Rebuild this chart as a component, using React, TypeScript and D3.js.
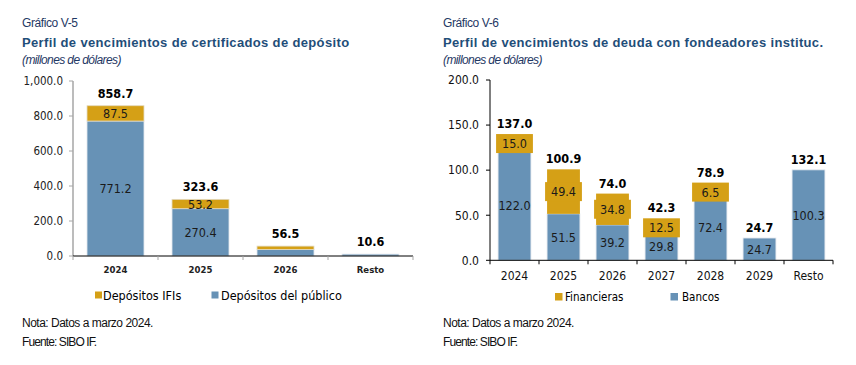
import React from "react";
import * as d3 from "d3";

// Gráfico V-5: certificados de depósito
const cdCategories = ["2024", "2025", "2026", "Resto"];
const cdPublico = [771.2, 270.4, 37.0, 10.6];
const cdIFIs = [87.5, 53.2, 19.5, 0];
const cdTotals = [858.7, 323.6, 56.5, 10.6];
const cdShowIFILabel = [true, true, false, false];
const cdShowPublicoLabel = [true, true, false, false];
const cdTicks = [0, 200, 400, 600, 800, 1000];

// Gráfico V-6: deuda con fondeadores institucionales
const fdCategories = ["2024", "2025", "2026", "2027", "2028", "2029", "Resto"];
const fdBancos = [122.0, 51.5, 39.2, 29.8, 72.4, 24.7, 100.3];
const fdFinancieras = [15.0, 49.4, 34.8, 12.5, 6.5, 0, 0];
const fdTotals = [137.0, 100.9, 74.0, 42.3, 78.9, 24.7, 132.1];
const fdTicks = [0, 50, 100, 150, 200];

const GOLD = "#D5A016";
const BLUE = "#6792B6";
const NAVY = "#1F3864";
const TITLE = "#1F4E79";
const NUM_FONT = "Tahoma, 'DejaVu Sans Condensed', 'DejaVu Sans', sans-serif";
const TXT_FONT = "'Liberation Sans', Arial, sans-serif";

const Header = ({ x, num, title }: { x: number; num: string; title: string }) => (
  <g fontFamily={TXT_FONT}>
    <text x={x} y={27} fontSize={12} fill={NAVY} letterSpacing={-0.4}>{num}</text>
    <text x={x} y={46.5} fontSize={13} fontWeight="bold" fill={TITLE} letterSpacing={0.35}>{title}</text>
    <text x={x} y={64} fontSize={12} fontStyle="italic" fill={NAVY} letterSpacing={-0.6}>(millones de dólares)</text>
    <text x={x} y={327} fontSize={12} fill="#111" letterSpacing={-0.5}>Nota: Datos a marzo 2024.</text>
    <text x={x} y={346} fontSize={12} fill="#111" letterSpacing={-0.9}>Fuente: SIBO IF.</text>
  </g>
);

const LeftChart = () => {
  const x = d3.scaleBand<string>().domain(cdCategories).range([73, 413]).paddingInner(0.33).paddingOuter(0.165);
  const band = d3.scaleBand<string>().domain(cdCategories).range([73, 413]);
  const y = d3.scaleLinear().domain([0, 1000]).range([256, 81]);
  const fmt = d3.format(",.1f");
  const axisColor = "#A6A6A6";
  return (
    <g fontFamily={NUM_FONT}>
      {cdTicks.map((t) => (
        <g key={t}>
          <line x1={69} x2={73} y1={y(t)} y2={y(t)} stroke={axisColor} />
          <text x={63} y={y(t)} dy="0.36em" textAnchor="end" fontSize={11.5} fill="#222">{fmt(t)}</text>
        </g>
      ))}
      <line x1={73} x2={73} y1={y(1000)} y2={y(0)} stroke={axisColor} strokeWidth={1.5} />
      {cdCategories.map((c, i) => {
        const bx = x(c)!;
        const w = x.bandwidth();
        const p0 = y(0), p1 = y(cdPublico[i]), p2 = y(cdPublico[i] + cdIFIs[i]);
        return (
          <g key={c}>
            <rect x={bx} y={p1} width={w} height={p0 - p1} fill={BLUE} stroke="#dfe5ec" strokeWidth={0.8} />
            {cdIFIs[i] > 0 && (
              <rect x={bx} y={p2} width={w} height={p1 - p2} fill={GOLD} stroke="#e2d9bf" strokeWidth={0.8} />
            )}
            {cdShowPublicoLabel[i] && (
              <text x={bx + w / 2} y={(p0 + p1) / 2} dy="0.36em" textAnchor="middle" fontSize={12.5} fill="#1a1a1a">{cdPublico[i].toFixed(1)}</text>
            )}
            {cdShowIFILabel[i] && (
              <text x={bx + w / 2} y={(p1 + p2) / 2} dy="0.36em" textAnchor="middle" fontSize={12.5} fill="#1a1a1a">{cdIFIs[i].toFixed(1)}</text>
            )}
            <text x={bx + w / 2} y={p2 - 8} textAnchor="middle" fontSize={12.5} fontWeight="bold" fill="#000">{cdTotals[i].toFixed(1)}</text>
            <text x={band(c)! + band.bandwidth() / 2} y={273} textAnchor="middle" fontSize={9.5} fontWeight="bold" fill="#222">{c}</text>
          </g>
        );
      })}
      <line x1={73} x2={413} y1={y(0)} y2={y(0)} stroke="#000" strokeWidth={1} />
      {[...cdCategories.map((c) => band(c)!), 413].map((bx, i) => (
        <line key={i} x1={bx} x2={bx} y1={y(0)} y2={y(0) + 4} stroke={axisColor} />
      ))}
      <g fontSize={12.5}>
        <rect x={95} y={291.5} width={7} height={7} fill={GOLD} />
        <text x={103} y={300}>Depósitos IFIs</text>
        <rect x={211.5} y={291.5} width={7} height={7} fill={BLUE} />
        <text x={221} y={300}>Depósitos del público</text>
      </g>
    </g>
  );
};

const RightChart = () => {
  const band = d3.scaleBand<string>().domain(fdCategories).range([490, 833]);
  const x = d3.scaleBand<string>().domain(fdCategories).range([490, 833]).paddingInner(0.33).paddingOuter(0.165);
  const y = d3.scaleLinear().domain([0, 200]).range([260.3, 80]);
  return (
    <g fontFamily={NUM_FONT}>
      {fdTicks.map((t) => (
        <g key={t}>
          <line x1={486} x2={490} y1={y(t)} y2={y(t)} stroke="#000" />
          <text x={479} y={y(t)} dy="0.36em" textAnchor="end" fontSize={12} fill="#111">{t.toFixed(1)}</text>
        </g>
      ))}
      <line x1={490} x2={490} y1={y(200)} y2={y(0)} stroke="#000" />
      {fdCategories.map((c, i) => {
        const bx = x(c)!;
        const w = x.bandwidth();
        const p0 = y(0), p1 = y(fdBancos[i]), p2 = y(fdBancos[i] + fdFinancieras[i]);
        const hasFin = fdFinancieras[i] > 0;
        const mid = (p1 + p2) / 2;
        const boxTop = hasFin ? Math.min(p2, mid - 9.5) : p1;
        return (
          <g key={c}>
            <rect x={bx} y={p1} width={w} height={p0 - p1} fill={BLUE} stroke="#dfe5ec" strokeWidth={0.8} />
            {hasFin && (
              <>
                <rect x={bx} y={p2} width={w} height={p1 - p2} fill={GOLD} />
                <rect x={bx - 2} y={mid - 9.5} width={w + 4} height={19} fill={GOLD} />
                <text x={bx + w / 2} y={mid} dy="0.36em" textAnchor="middle" fontSize={12.5} fill="#1a1a1a">{fdFinancieras[i].toFixed(1)}</text>
              </>
            )}
            <text x={bx + w / 2} y={(p0 + p1) / 2} dy="0.36em" textAnchor="middle" fontSize={12.5} fill="#1a1a1a">{fdBancos[i].toFixed(1)}</text>
            <text x={bx + w / 2} y={Math.min(boxTop, p1) - 6} textAnchor="middle" fontSize={12.5} fontWeight="bold" fill="#000">{fdTotals[i].toFixed(1)}</text>
            <text x={band(c)! + band.bandwidth() / 2} y={280} textAnchor="middle" fontSize={12} fill="#111">{c}</text>
          </g>
        );
      })}
      <line x1={490} x2={833} y1={y(0)} y2={y(0)} stroke="#000" />
      {[...fdCategories.map((c) => band(c)!), 833].map((bx, i) => (
        <line key={i} x1={bx} x2={bx} y1={y(0)} y2={y(0) + 4} stroke="#000" />
      ))}
      <g fontSize={11.5}>
        <rect x={555} y={293} width={7.5} height={7.5} fill={GOLD} />
        <text x={565} y={301}>Financieras</text>
        <rect x={670.5} y={293} width={7.5} height={7.5} fill={BLUE} />
        <text x={682} y={301}>Bancos</text>
      </g>
    </g>
  );
};

export default function App() {
  return (
    <svg width={856} height={365} style={{ position: "absolute", left: 0, top: 0, background: "#fff" }}>
      <Header x={22} num="Gráfico V-5" title="Perfil de vencimientos de certificados de depósito" />
      <Header x={443} num="Gráfico V-6" title="Perfil de vencimientos de deuda con fondeadores instituc." />
      <LeftChart />
      <RightChart />
    </svg>
  );
}
